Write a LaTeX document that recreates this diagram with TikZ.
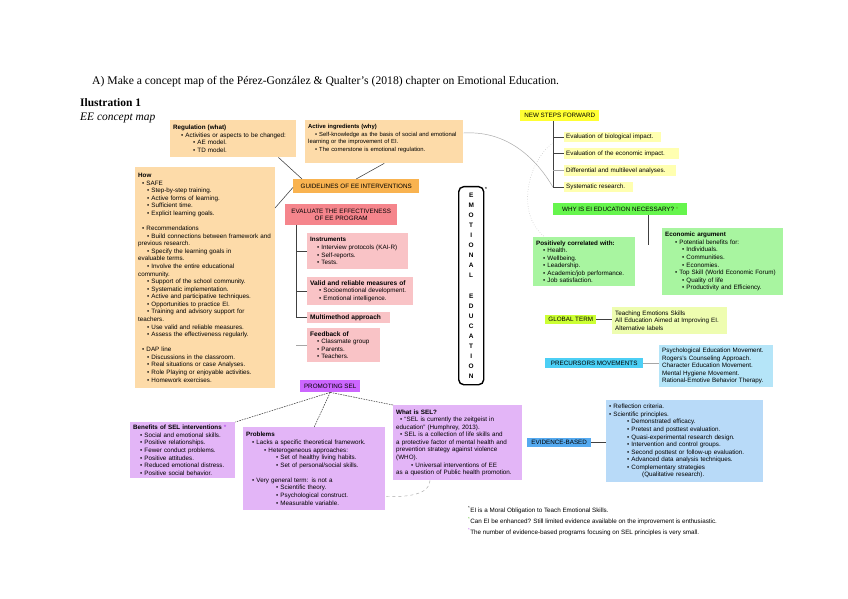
\documentclass[tikz,border=0pt]{standalone}
\usepackage{fontspec}
\setmainfont{Liberation Sans}
\newfontfamily\serif{Liberation Serif}
\usetikzlibrary{calc}
\pgfdeclarelayer{bg}
\pgfsetlayers{bg,main}
\definecolor{peach}{HTML}{FDDBA9}
\definecolor{orangeH}{HTML}{F9B350}
\definecolor{redH}{HTML}{F5858C}
\definecolor{pinkL}{HTML}{F9C3C6}
\definecolor{yelH}{HTML}{FFFF33}
\definecolor{yelL}{HTML}{FFFFB0}
\definecolor{grnH}{HTML}{66F54D}
\definecolor{grnL}{HTML}{A8F5A0}
\definecolor{limeH}{HTML}{CCFF33}
\definecolor{limeL}{HTML}{EEFDB0}
\definecolor{cyanH}{HTML}{4CCFF5}
\definecolor{cyanL}{HTML}{B5E5F8}
\definecolor{purH}{HTML}{CC66FF}
\definecolor{purL}{HTML}{E3B5F7}
\definecolor{bluH}{HTML}{55AAF0}
\definecolor{bluL}{HTML}{B8DAF8}
\definecolor{astG}{HTML}{55BB22}
\definecolor{astP}{HTML}{BB55EE}
\newcommand\fs{\fontsize{6.3}{7.6}\selectfont}
\newcommand\fsa{\fontsize{5.9}{7.6}\selectfont}
\newcommand\hb{\fontsize{6.6}{8}\selectfont\bfseries}
\newcommand\bu[1]{\hspace*{#1bp}\textbullet\ }
\begin{document}
\begin{tikzpicture}[x=1bp,y=-1bp,
 bx/.style={anchor=north west, inner xsep=3bp, inner ysep=1.5bp, align=left, font=\fs},
 sb/.style={anchor=north west, inner xsep=2bp, inner ysep=1bp, align=left, font=\fs},
 hd/.style={anchor=north west, inner sep=0.5bp, align=center, font=\fs},
 ln/.style={draw=black!75, line width=0.55bp},
 dl/.style={draw=black!75, line width=0.55bp, dash pattern=on 1.6bp off 1bp},
 gl/.style={draw=black!35, line width=0.45bp}]
\useasboundingbox[fill=white] (0,0) rectangle (848,599);

% titles
\node[anchor=base west, font=\serif\fontsize{11.7}{13}\selectfont, inner sep=0] (title) at (92,85) {A) Make a concept map of the Pérez-González \& Qualter’s (2018) chapter on Emotional Education.};
\node[anchor=base west, font=\serif\bfseries\fontsize{11.5}{13}\selectfont, inner sep=0] (ill) at (80,107) {Ilustration 1};
\node[anchor=base west, font=\serif\itshape\fontsize{11.5}{13}\selectfont, inner sep=0] (cap) at (80,121) {EE concept map};

% guidelines branch
\node[bx, fill=peach, text width=120bp, minimum height=37bp] (reg) at (170,120) {\textbf{Regulation (what)}\\ \bu{8}Activities or aspects to be changed:\\ \bu{20}AE model.\\ \bu{20}TD model.};
\node[bx, fill=peach, text width=152bp, minimum height=43bp, font=\fsa] (act) at (305,120) {\textbf{Active ingredients (why)}\\ \bu{7}Self-knowledge as the basis of social and emotional\\ learning or the improvement of EI.\\ \bu{7}The cornerstone is emotional regulation.\\ \mbox{}};
\node[hd, fill=orangeH, minimum width=126bp, minimum height=14bp] (guid) at (293,179) {GUIDELINES OF EE INTERVENTIONS};
\node[bx, fill=peach, text width=134bp, minimum height=221bp] (how) at (135,167) {\textbf{How}\\ \bu{4}SAFE\\ \bu{9}Step-by-step training.\\ \bu{9}Active forms of learning.\\ \bu{9}Sufficient time.\\ \bu{9}Explicit learning goals.\\[7.6bp] \bu{4}Recommendations\\ \bu{9}Build connections between framework and\\ previous research.\\ \bu{9}Specify the learning goals in\\ evaluable terms.\\ \bu{9}Involve the entire educational\\ community.\\ \bu{9}Support of the school community.\\ \bu{9}Systematic implementation.\\ \bu{9}Active and participative techniques.\\ \bu{9}Opportunities to practice EI.\\ \bu{9}Training and advisory support for\\ teachers.\\ \bu{9}Use valid and reliable measures.\\ \bu{9}Assess the effectiveness regularly.\\[7.6bp] \bu{4}DAP line\\ \bu{9}Discussions in the classroom.\\ \bu{9}Real situations or case Analyses.\\ \bu{9}Role Playing or enjoyable activities.\\ \bu{9}Homework exercises.};

% evaluate branch
\node[hd, fill=redH, minimum width=112bp, minimum height=21bp] (eval) at (285,204) {EVALUATE THE EFFECTIVENESS\\OF EE PROGRAM};
\node[bx, fill=pinkL, text width=95bp, minimum height=36bp] (inst) at (307,233) {\textbf{Instruments}\\ \bu{7}Interview protocols (KAI-R)\\ \bu{7}Self-reports.\\ \bu{7}Tests.};
\node[bx, fill=pinkL, text width=100bp, minimum height=28bp] (valid) at (307,277) {{\hb Valid and reliable measures of}\\ \bu{9}Socioemotional development.\\ \bu{9}Emotional intelligence.};
\node[bx, fill=pinkL, text width=77bp, minimum height=11bp, inner ysep=1bp] (multi) at (307,312) {{\hb Multimethod approach}};
\node[bx, fill=pinkL, text width=67bp, minimum height=34bp] (feed) at (307,328) {{\hb Feedback of}\\ \bu{7}Classmate group\\ \bu{7}Parents.\\ \bu{7}Teachers.};

% centre
\node[draw=black, line width=1.4bp, rounded corners=5bp, fill=white, minimum width=25bp, minimum height=198bp, anchor=north west, inner sep=0, align=center, font=\bfseries\fontsize{6.5}{10.1}\selectfont] (ee) at (458,186) {E\\M\\O\\T\\I\\O\\N\\A\\L\\[10.1bp]E\\D\\U\\C\\A\\T\\I\\O\\N};
\node[font=\fontsize{6}{6}\selectfont, inner sep=0] (ast) at (486,189) {*};

% new steps
\node[hd, fill=yelH, minimum width=79bp, minimum height=11bp] (ns) at (520,110) {NEW STEPS FORWARD};
\node[sb, fill=yelL, text width=93bp, minimum height=10bp] (bio) at (564,132) {Evaluation of biological impact.};
\node[sb, fill=yelL, text width=111bp, minimum height=11bp] (eco) at (564,148) {Evaluation of the economic impact.};
\node[sb, fill=yelL, text width=108bp, minimum height=11bp] (dif) at (564,165) {Differential and multilevel analyses.};
\node[sb, fill=yelL, text width=65bp, minimum height=10bp] (sys) at (564,182) {Systematic research.};

% why
\node[hd, fill=grnH, minimum width=134bp, minimum height=12bp] (why) at (553,203) {WHY IS EI EDUCATION NECESSARY? {\color{astG}*}};
\node[bx, fill=grnL, text width=96bp, minimum height=49bp] (pos) at (533,237) {\textbf{Positively correlated with:}\\ \bu{7}Health.\\ \bu{7}Wellbeing.\\ \bu{7}Leadership.\\ \bu{7}Academic/job performance.\\ \bu{7}Job satisfaction.};
\node[bx, fill=grnL, text width=115bp, minimum height=67bp] (econ) at (662,228) {\textbf{Economic argument}\\ \bu{10}Potential benefits for:\\ \bu{17}Individuals.\\ \bu{17}Communities.\\ \bu{17}Economies.\\ \bu{10}Top Skill (World Economic Forum)\\ \bu{17}Quality of life\\ \bu{17}Productivity and Efficiency.};

% global term, precursors
\node[hd, fill=limeH, minimum width=51bp, minimum height=9bp] (glob) at (545,315) {GLOBAL TERM};
\node[bx, fill=limeL, text width=109bp, minimum height=27bp] (alt) at (612,307) {Teaching Emotions Skills\\ All Education Aimed at Improving EI.\\ Alternative labels};
\node[hd, fill=cyanH, minimum width=98bp, minimum height=10bp] (prec) at (545,358) {PRECURSORS MOVEMENTS};
\node[bx, fill=cyanL, text width=108bp, minimum height=42bp] (mov) at (659,345) {Psychological Education Movement.\\ Rogers's Counseling Approach.\\ Character Education Movement.\\ Mental Hygiene Movement.\\ Rational-Emotive Behavior Therapy.};

% promoting SEL
\node[hd, fill=purH, minimum width=60bp, minimum height=12bp] (prom) at (300,380) {PROMOTING SEL};
\node[bx, fill=purL, text width=99bp, minimum height=56bp] (ben) at (130,422) {\textbf{Benefits of SEL interventions {\color{astP}*}}\\ \bu{7}Social and emotional skills.\\ \bu{7}Positive relationships.\\ \bu{7}Fewer conduct problems.\\ \bu{7}Positive attitudes.\\ \bu{7}Reduced emotional distress.\\ \bu{7}Positive social behavior.};
\node[bx, fill=purL, text width=136bp, minimum height=83bp] (prob) at (243,427) {\textbf{Problems}\\ \bu{6}Lacks a specific theoretical framework.\\ \bu{18}Heterogeneous approaches:\\ \bu{30}Set of healthy living habits.\\ \bu{30}Set of personal/social skills.\\[7.6bp] \bu{6}Very general term: is not a\\ \bu{30}Scientific theory.\\ \bu{30}Psychological construct.\\ \bu{30}Measurable variable.};
\node[bx, fill=purL, text width=123bp, minimum height=75bp] (sel) at (393,405) {\textbf{What is SEL?}\\ \bu{4}“SEL is currently the zeitgeist in\\ education” (Humphrey, 2013).\\ \bu{4}SEL is a collection of life skills and\\ a protective factor of mental health and\\ prevention strategy against violence\\ (WHO).\\ \bu{15}Universal interventions of EE\\ as a question of Public health promotion.};

% evidence
\node[hd, fill=bluH, minimum width=64bp, minimum height=9bp] (evb) at (527,438) {EVIDENCE-BASED};
\node[bx, fill=bluL, text width=151bp, minimum height=82bp] (evt) at (606,400) {\bu{0}Reflection criteria.\\ \bu{0}Scientific principles.\\ \bu{18}Demonstrated efficacy.\\ \bu{18}Pretest and posttest evaluation.\\ \bu{18}Quasi-experimental research design.\\ \bu{18}Intervention and control groups.\\ \bu{18}Second posttest or follow-up evaluation.\\ \bu{18}Advanced data analysis techniques.\\ \bu{18}Complementary strategies\\ \hspace*{33bp}(Qualitative research).};

% footnotes
\node[anchor=west, font=\fs, inner sep=0] (fn1) at (468,510) {\textsuperscript{*}EI is a Moral Obligation to Teach Emotional Skills.};
\node[anchor=west, font=\fs, inner sep=0] (fn2) at (468,521) {\textsuperscript{\color{astG}*}Can EI be enhanced? Still limited evidence available on the improvement is enthusiastic.};
\node[anchor=west, font=\fs, inner sep=0] (fn3) at (468,532) {\textsuperscript{\color{astP}*}The number of evidence-based programs focusing on SEL principles is very small.};

% connectors from the centre
\begin{pgfonlayer}{bg}
\draw[ln] (ee.center) -- (guid.east);
\draw[ln] (ee.center) -- (eval.east);
\draw[ln] (ee.center) -- (prom.east);
\draw[ln] (ee.center) -- (why.west);
\draw[ln] (ee.center) -- (glob.west);
\draw[ln] (ee.center) -- (prec.west);
\draw[dl] (ee.center) -- (ns.south west);
\end{pgfonlayer}

% guidelines connectors
\draw[ln] ($(reg.south east)+(-18,0)$) -- ($(guid.north west)+(9,0)$);
\draw[ln] (act.south) -- (guid.north);
\coordinate (howr) at (275,208);
\draw[ln] ($(guid.south west)+(0,-6)$) -- (howr);

% brackets
\coordinate (nsb) at (553,121);
\draw[ln] (nsb) |- (sys.west);
\draw[ln] (nsb |- bio.west) -- (bio.west);
\draw[ln] (nsb |- eco.west) -- (eco.west);
\draw[gl] (nsb |- dif.west) -- (dif.west);

\coordinate (evbk) at (296,225);
\draw[ln] (evbk) |- (multi.west);
\draw[ln] (evbk |- inst.west) -- (inst.west);
\draw[ln] (evbk |- valid.west) -- (valid.west);
\draw[gl] (evbk |- feed.west) -- (feed.west);

\coordinate (whyb) at (648,215);
\coordinate (whye) at (648,245);
\draw[ln] (whyb) -- (whye);

\draw[ln] (glob.east) -- (glob.east -| alt.west);
\draw[gl, line width=0.8bp] (prec.east) -- (prec.east -| mov.west);
\draw[ln] (evb.east) -- (evb.east -| evt.west);

% promoting SEL dashed
\draw[dl] (prom.south) -- (ben.north east);
\draw[dl] (prom.south) -- (prob.north);
\draw[dl] (prom.south) -- (sel.north west);

% gray curves
\draw[gl] ($(act.north east)+(0,13)$) .. controls (512,130) and (540,165) .. (sys.west -| nsb);
\draw[gl, dotted] ($(nsb)+(0,22)$) .. controls (528,160) and (515,215) .. ($(pos.north west)+(12,0)$);
\draw[gl, dashed] ($(sel.south west)+(37,0)$) .. controls +(0,14) and +(22,1) .. ($(prob.south east)+(0,-14)$);
\end{tikzpicture}
\end{document}
